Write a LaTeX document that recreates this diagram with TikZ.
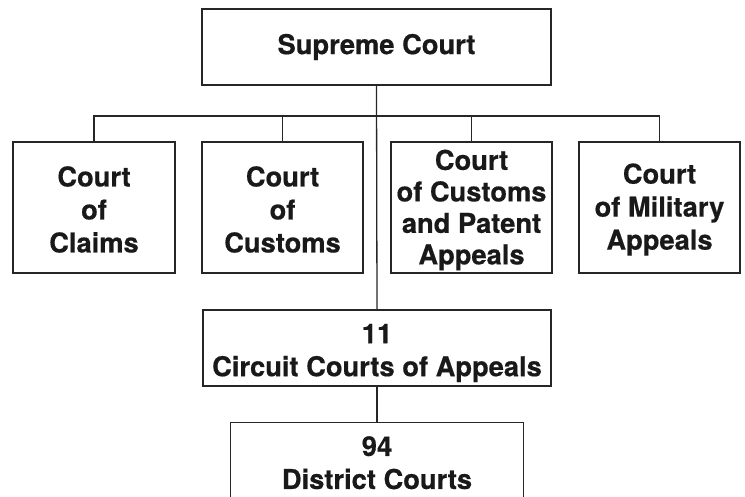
\documentclass[tikz,border=0pt]{standalone}
\usepackage{fontspec}
\newfontfamily\hvb{texgyreheros-bold.otf}[FakeBold=0.5]
\begin{document}
\begin{tikzpicture}[x=1pt,y=-1pt,
  box/.style={draw=black!85, line width=1.3pt, rectangle, inner sep=0pt, align=center,
    font=\fontsize{27.3}{33}\selectfont\hvb, text=black!90},
  lbl/.style={inner sep=0pt, align=center,
    font=\fontsize{27.3}{33}\selectfont\hvb, text=black!90},
  conn/.style={draw=black!85, line width=1.3pt}]
\useasboundingbox (0,0) rectangle (745,497);
\node[box, minimum width=349pt, minimum height=76pt] (sc) at (376.5,47) {Supreme Court};
\node[box, minimum width=162pt, minimum height=131pt] (claims) at (94,207.5) {};
\node[lbl] (claimstext) at (94,209.5) {Court\\of\\Claims};
\node[box, minimum width=161pt, minimum height=131pt] (customs) at (282.5,207.5) {};
\node[lbl] (customstext) at (282.5,209.5) {Court\\of\\Customs};
\node[box, minimum width=161pt, minimum height=131pt] (patent) at (471.5,207.5) {};
\node[lbl, font=\fontsize{27.3}{31.5}\selectfont\hvb] (patenttext) at (471.5,210) {Court\\of Customs\\and Patent\\Appeals};
\node[box, minimum width=161pt, minimum height=131pt] (military) at (659.5,207.5) {};
\node[lbl] (militarytext) at (659.5,209.5) {Court\\of Military\\Appeals};
\node[box, minimum width=348pt, minimum height=76pt] (circuit) at (377,348) {};
\node[lbl] (circuittext) at (377,353) {11\\Circuit Courts of Appeals};
\node[draw=none, inner sep=0pt, minimum width=292pt, minimum height=80pt] (district) at (377,463) {};
\node[lbl, anchor=north] (districttext) at (377,436) {94\\District Courts};
\draw[conn] (district.south west) -- (district.north west) -- (district.north east) -- (district.south east);
\coordinate (bus) at (377,116);
\draw[conn] (sc.south) -- (circuit.north);
\draw[conn] (claims.north) |- (bus) -| (military.north);
\draw[conn] (customs.north) -- (customs.north |- bus);
\draw[conn] (patent.north) -- (patent.north |- bus);
\draw[conn] (circuit.south) -- (district.north);
\end{tikzpicture}
\end{document}
